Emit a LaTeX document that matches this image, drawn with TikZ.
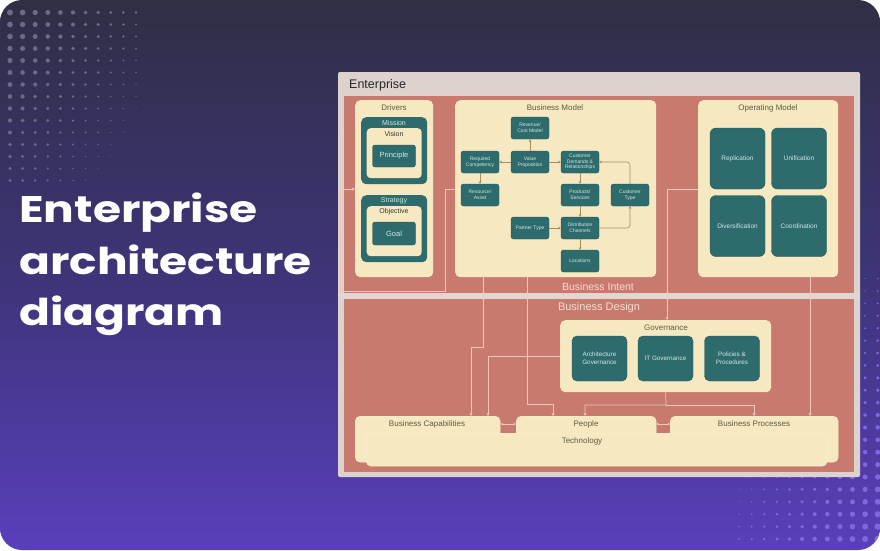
\documentclass[tikz,border=0pt]{standalone}
\usepackage{fontspec}
\setmainfont{Liberation Sans}
\newfontfamily\titlefont{Poppins}
\usetikzlibrary{arrows.meta}

\definecolor{bgtop}{HTML}{2F2F45}
\definecolor{bgmid}{HTML}{3E3478}
\definecolor{bgbot}{HTML}{5A3FBB}
\definecolor{dotgray}{HTML}{6C6A86}
\definecolor{dotlav}{HTML}{8068DC}
\definecolor{framegray}{HTML}{DDD3CE}
\definecolor{salmon}{HTML}{C77A6D}
\definecolor{cream}{HTML}{F6E9C2}
\definecolor{tealbox}{HTML}{2E6B6C}
\definecolor{tealedge}{HTML}{245857}
\definecolor{tealtext}{HTML}{D2EAE4}
\definecolor{olivetext}{HTML}{5F5A3C}
\definecolor{arrowbrown}{HTML}{A38E5C}
\definecolor{linkpink}{HTML}{F3C8BB}
\definecolor{intenttext}{HTML}{F8DED4}

\tikzset{
  panel/.style={fill=cream, rounded corners=5pt, anchor=north west, inner sep=0pt},
  tealframe/.style={fill=tealbox, rounded corners=5pt, anchor=north west, inner sep=0pt},
  bmbox/.style={fill=tealbox, draw=tealedge, line width=0.4pt, rounded corners=2.5pt,
    minimum width=38pt, minimum height=22pt, inner sep=0pt, text=tealtext,
    font=\fontsize{5}{5.6}\selectfont, align=center},
  opbox/.style={fill=tealbox, draw=tealedge, line width=0.4pt, rounded corners=6pt,
    minimum width=55pt, minimum height=61pt, inner sep=0pt, text=tealtext,
    font=\fontsize{6.5}{7.5}\selectfont, align=center},
  govbox/.style={opbox, rounded corners=5pt, minimum height=45pt,
    font=\fontsize{6.3}{7.6}\selectfont},
  drvbox/.style={bmbox, minimum width=43pt, minimum height=22pt,
    font=\fontsize{7.5}{8}\selectfont},
  paneltitle/.style={text=olivetext, font=\fontsize{8}{9}\selectfont, inner sep=0pt},
  bandtitle/.style={text=tealtext, font=\fontsize{7}{8}\selectfont, inner sep=0pt},
  innertitle/.style={text=black!80, font=\fontsize{7}{8}\selectfont, inner sep=0pt},
  titleline/.style={anchor=base west, text=white, inner sep=0pt, xscale=1.23,
    font=\titlefont\bfseries\fontsize{37}{37}\selectfont},
  bmarrow/.style={draw=arrowbrown, line width=0.6pt, -{Stealth[length=2.6pt,width=2.6pt]}},
  link/.style={draw=linkpink, line width=0.7pt, -{Stealth[length=3pt,width=3pt]}},
}

\begin{document}
\begin{tikzpicture}[x=1pt,y=-1pt]
\useasboundingbox (0,0) rectangle (880,550);
\shade[rounded corners=22pt, top color=bgtop, bottom color=bgbot, middle color=bgmid]
  (0,0) rectangle (880,550);

% dot patterns
\begin{scope}
\clip[rounded corners=22pt] (0,0) rectangle (880,550);
\foreach \i in {0,...,10}
  \foreach \j in {0,...,14} {
    \pgfmathsetmacro\r{3.0-0.17*\i-0.1*\j}
    \ifdim\r pt>0.4pt \fill[dotgray] (10+12.6*\i,12.5+12*\j) circle (\r pt); \fi
  }
\foreach \i in {0,...,11}
  \foreach \j in {0,...,21} {
    \pgfmathsetmacro\r{3.3-0.21*\i-0.12*\j}
    \ifdim\r pt>0.4pt \fill[dotlav] (877.7-12.6*\i,539-12.4*\j) circle (\r pt); \fi
  }
\end{scope}

\node[titleline] (title) at (19,222) {Enterprise};
\node[titleline] (titleb) at (19,274) {architecture};
\node[titleline] (titlec) at (19,325) {diagram};

% enterprise frame
\fill[framegray, rounded corners=2pt] (338,72) rectangle (860,477);
\fill[salmon] (344,96) rectangle (854,472);
\fill[framegray!90!white] (338,293) rectangle (860,299);
\node[anchor=west, inner sep=0pt, text=black!85, font=\fontsize{12.5}{14}\selectfont] (ent) at (349,85) {Enterprise};
\node[text=intenttext, inner sep=0pt, font=\fontsize{10.5}{12}\selectfont] (intent) at (598,287) {Business Intent};
\node[text=intenttext, inner sep=0pt, font=\fontsize{11}{12}\selectfont] (design) at (599,308) {Business Design};

% drivers
\node[panel, minimum width=78pt, minimum height=177pt] (drivers) at (355,100) {};
\node[paneltitle] (drvlbl) at (394,108) {Drivers};
\node[tealframe, minimum width=66pt, minimum height=67pt] (mission) at (361,117) {};
\node[bandtitle] (misslbl) at (394,123) {Mission};
\node[panel, rounded corners=4pt, minimum width=55pt, minimum height=50pt] (vision) at (366.5,128) {};
\node[innertitle] (vislbl) at (394,134) {Vision};
\node[drvbox] (principle) at (394,156) {Principle};
\node[tealframe, minimum width=66pt, minimum height=67pt] (strategy) at (361,195) {};
\node[bandtitle] (stratlbl) at (394,201) {Strategy};
\node[panel, rounded corners=4pt, minimum width=55pt, minimum height=50pt] (objective) at (366.5,206) {};
\node[innertitle] (objlbl) at (394,212) {Objective};
\node[drvbox, minimum height=23pt] (goal) at (394,233.5) {Goal};

% business model
\node[panel, minimum width=201pt, minimum height=177pt] (bmodel) at (455,100) {};
\node[paneltitle] (bmlbl) at (555,108) {Business Model};
\node[bmbox] (rev) at (530,128) {Revenue/\\Cost Model};
\node[bmbox] (rc) at (480,162) {Required\\Competency};
\node[bmbox] (vp) at (530,162) {Value\\Proposition};
\node[bmbox] (cd) at (580,162) {Customer\\Demands \&\\Relationships};
\node[bmbox] (ra) at (480,195) {Resource/\\Asset};
\node[bmbox] (ps) at (580,195) {Products/\\Services};
\node[bmbox] (ct) at (630,195) {Customer\\Type};
\node[bmbox] (pt) at (530,228) {Partner Type};
\node[bmbox] (dc) at (580,228) {Distribution\\Channels};
\node[bmbox] (loc) at (580,261) {Locations};

\draw[bmarrow] (vp) -- (rev);
\draw[bmarrow] (vp) -- (rc);
\draw[bmarrow] (vp) -- (cd);
\draw[bmarrow] (rc) -- (ra);
\draw[bmarrow] (cd) -- (ps);
\draw[bmarrow] (ps) -- (dc);
\draw[bmarrow] (pt) -- (dc);
\draw[bmarrow] (dc) -- (loc);
\draw[bmarrow, rounded corners=3pt] (dc.east) -| (ct.south);
\draw[bmarrow, rounded corners=3pt] (ct.north) |- (cd.east);

% operating model
\node[panel, minimum width=140pt, minimum height=177pt] (opmodel) at (698,100) {};
\node[paneltitle] (oplbl) at (768,108) {Operating Model};
\node[opbox] (repl) at (737.5,158.5) {Replication};
\node[opbox] (unif) at (799,158.5) {Unification};
\node[opbox] (divers) at (737.5,226) {Diversification};
\node[opbox] (coord) at (799,226) {Coordination};

% governance
\node[panel, minimum width=211pt, minimum height=72pt] (gov) at (560,320) {};
\node[paneltitle] (govlbl) at (666,328) {Governance};
\node[govbox] (archgov) at (599.5,358.5) {Architecture\\Governance};
\node[govbox] (itgov) at (665.5,358.5) {IT Governance};
\node[govbox] (policies) at (732,358.5) {Policies \&\\Procedures};

% bottom layers
\node[panel, draw=cream!70!white, minimum width=145pt, minimum height=46pt] (bcap) at (355,416) {};
\node[paneltitle] (bcaplbl) at (427,424) {Business Capabilities};
\node[panel, draw=cream!70!white, minimum width=140pt, minimum height=46pt] (people) at (516,416) {};
\node[paneltitle] (peoplelbl) at (586,424) {People};
\node[panel, draw=cream!70!white, minimum width=168pt, minimum height=46pt] (bproc) at (670,416) {};
\node[paneltitle] (bproclbl) at (754,424) {Business Processes};
\node[panel, draw=cream!60!white, minimum width=461pt, minimum height=33pt] (tech) at (366,433) {};
\node[paneltitle] (techlbl) at (582,441) {Technology};

\draw[link, {Stealth[length=2.5pt,width=2.5pt]}-{Stealth[length=2.5pt,width=2.5pt]}] (bcap.east |- bcaplbl) -- (people.west |- bcaplbl);
\draw[link, {Stealth[length=2.5pt,width=2.5pt]}-{Stealth[length=2.5pt,width=2.5pt]}] (people.east |- bcaplbl) -- (bproc.west |- bcaplbl);

% links
\draw[link] (bmodel.west |- 0,189) -- (445,189) -- (445,291) -- (340,291) -- (340,189) -- (drivers.west |- 0,189);
\draw[link] (bmodel.south -| 483,0) -- (483,347) -- (471,347) -- (bcap.north -| 471,0);
\draw[link] (gov.west |- 0,356) -- (488,356) -- (bcap.north -| 488,0);
\draw[link] (bmodel.south -| 527,0) -- (527,404) -- (553,404) -- (people.north -| 553,0);
\draw[link] (gov.south) -- (666,405) -- (585,405) -- (people.north -| 585,0);
\draw[link] (666,405) -- (754,405) -- (bproc.north -| 754,0);
\draw[link] (opmodel.south -| 810,0) -- (bproc.north -| 810,0);
\draw[link] (opmodel.west |- 0,189) -- (667,189) -- (gov.north -| 667,0);
\end{tikzpicture}
\end{document}
